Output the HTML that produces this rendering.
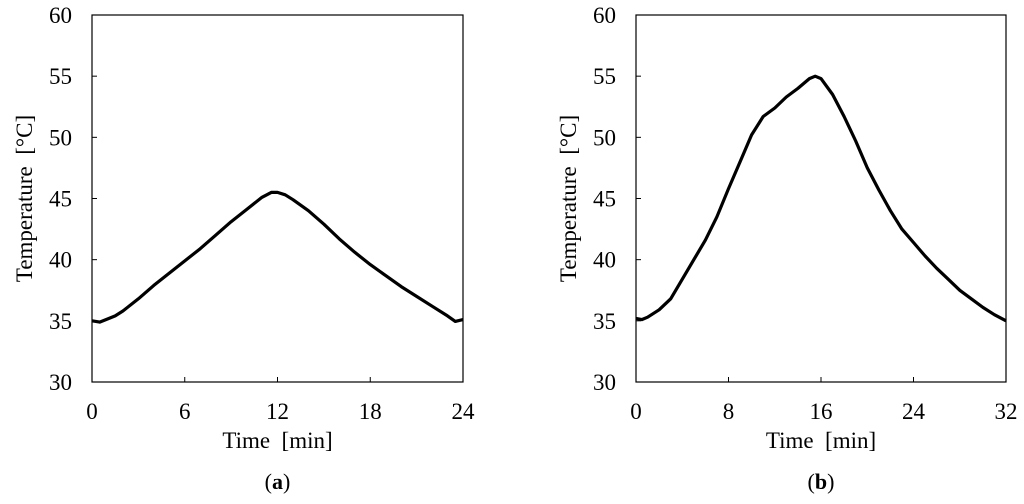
<!DOCTYPE html>
<html><head><meta charset="utf-8"><style>
body{margin:0;background:#fff;}
svg{display:block;font-family:"Liberation Serif","Noto Serif CJK SC",serif;}
text{white-space:pre;}
</style></head><body>
<svg id="fig" width="1024" height="504" viewBox="0 0 1024 504"></svg>
<script>
const yTicks=[30,35,40,45,50,55,60];
const aTimes=[0,0.5,1,1.5,2,3,4,5,6,7,8,9,10,11,11.6,12,12.5,13,14,15,16,17,18,19,20,21,22,23,23.5,24];
const aTemps=[35,34.9,35.15,35.4,35.8,36.8,37.9,38.9,39.9,40.9,42,43.1,44.1,45.1,45.5,45.5,45.3,44.9,44,42.9,41.7,40.6,39.6,38.7,37.8,37,36.2,35.4,34.95,35.1];
const aXTicks=[0,6,12,18,24];
const bTimes=[0,0.5,1,2,3,4,5,6,7,8,9,10,11,12,13,14,15,15.5,16,17,18,19,20,21,22,23,24,25,26,27,28,29,30,31,32];
const bTemps=[35.2,35.1,35.3,35.9,36.8,38.4,40,41.6,43.5,45.8,48,50.2,51.7,52.4,53.3,54,54.8,55,54.8,53.5,51.7,49.7,47.5,45.7,44,42.5,41.4,40.3,39.3,38.4,37.5,36.8,36.1,35.5,35];
const bXTicks=[0,8,16,24,32];
const NS="http://www.w3.org/2000/svg";
const svg=document.getElementById('fig');
function mk(tag,attrs,parent){const e=document.createElementNS(NS,tag);for(const k in attrs)e.setAttribute(k,attrs[k]);(parent||svg).appendChild(e);return e;}
function panel(id,x0,x1,xmax,times,temps,xticks,label){
  const y0=382,y1=15;
  const g=mk('g',{});
  
  
  const sx=v=>x0+(x1-x0)*v/xmax, sy=v=>y0-(y0-y1)*(v-30)/30;
  const box=mk('rect',{x:x0,y:y1,width:x1-x0,height:y0-y1,fill:'none',stroke:'#000','stroke-width':1.2},g);
  
  
  yTicks.forEach(t=>{
    const tk=mk('line',{x1:x0,x2:x0+5,y1:sy(t),y2:sy(t),stroke:'#000','stroke-width':1},g);
    
    
    const tx=mk('text',{x:x0-20,y:sy(t)+8,'font-size':23,'text-anchor':'end'},g);tx.textContent=t;
    
    
  });
  xticks.forEach(t=>{
    const tk=mk('line',{x1:sx(t),x2:sx(t),y1:y0,y2:y0-5,stroke:'#000','stroke-width':1},g);
    
    
    const tx=mk('text',{x:sx(t),y:419,'font-size':23,'text-anchor':'middle'},g);tx.textContent=t;
    
    
  });
  const d=times.map((t,i)=>(i?'L':'M')+sx(t).toFixed(1)+','+sy(temps[i]).toFixed(1)).join('');
  const p=mk('path',{d:d,fill:'none',stroke:'#000','stroke-width':3.2,'stroke-linejoin':'round'},g);
  
  
  const xt=mk('text',{x:(x0+x1)/2,y:448,'font-size':23,'text-anchor':'middle'},g);xt.textContent='Time  [min]';
  
  
  const yt=mk('text',{x:0,y:0,'font-size':23,'text-anchor':'middle',transform:`translate(${x0-60},${(y0+y1)/2}) rotate(-90)`},g);yt.textContent='Temperature  [°C]';
  
  
  const lb=mk('text',{x:(x0+x1)/2,y:489,'font-size':22,'text-anchor':'middle'},g);
  lb.innerHTML='(<tspan font-weight="bold">'+label+'</tspan>)';
  
  
}
panel('a',92,463,24,aTimes,aTemps,aXTicks,'a');
panel('b',636,1006,32,bTimes,bTemps,bXTicks,'b');
</script>
</body></html>
